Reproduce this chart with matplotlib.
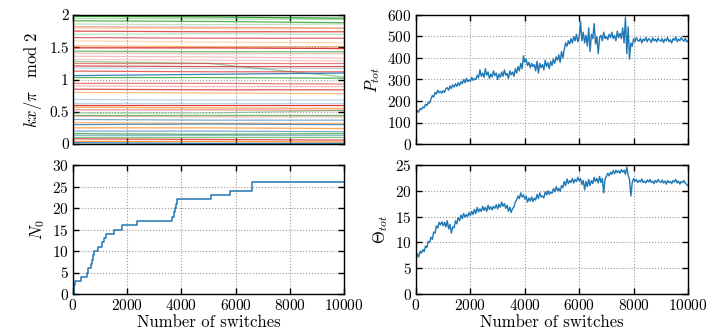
import matplotlib
matplotlib.use("Agg")
import matplotlib.pyplot as plt
import numpy as np

# ---------------- data ----------------
switch_step = 50
p_tot = [140,155,148,165,160,172,168,185,178,195,190,210,225,218,240,232,250,238,245,236,
         248,240,258,262,250,270,258,275,265,280,268,285,272,290,280,300,285,305,290,298,
         292,310,296,305,300,320,308,345,315,330,310,350,320,335,305,325,312,340,318,330,
         300,325,310,335,315,345,320,328,305,340,322,335,315,350,330,360,340,375,350,410,
         380,395,365,380,355,375,360,370,340,385,330,375,355,370,345,390,360,378,350,385,
         365,395,375,405,390,415,380,430,400,440,470,455,480,465,490,470,500,480,510,475,
         495,570,480,520,470,505,455,540,430,510,490,560,465,500,420,495,505,480,520,490,
         500,485,510,495,520,490,505,480,525,495,515,490,540,470,590,420,545,395,470,455,
         490,475,495,482,478,492,470,488,480,495,476,490,485,472,494,480,488,475,492,482,
         478,490,472,488,480,495,476,485,470,490,482,498,476,488,480,495,485,478,492,475,
         480]
theta_tot = [6.5,7.8,7.2,8.3,7.9,8.6,8.2,9.3,9.0,10.2,10.0,11.0,10.6,12.0,11.8,13.2,12.8,13.9,13.4,14.0,
             13.2,13.9,13.0,14.2,12.6,13.5,11.8,13.0,12.8,14.2,13.6,14.8,14.2,15.3,14.6,15.6,14.9,15.4,15.0,15.8,
             15.2,16.0,15.4,16.4,15.6,16.8,15.9,16.5,16.0,17.0,16.2,16.8,16.0,17.2,16.4,16.9,16.3,17.0,16.6,17.3,
             16.5,17.4,16.8,17.8,17.0,17.5,16.6,17.2,16.0,16.8,15.8,16.6,16.8,17.8,18.2,19.0,18.5,19.6,18.8,19.2,
             18.4,19.0,17.8,18.6,18.0,18.8,17.9,18.6,18.2,19.3,18.5,19.6,18.8,19.0,18.6,19.8,19.2,20.0,19.3,19.8,
             19.5,20.4,19.8,20.8,20.0,20.5,19.9,21.0,20.6,21.8,21.0,22.3,21.4,22.0,21.6,22.4,21.5,22.2,21.8,22.6,
             21.9,22.4,21.2,22.0,20.2,21.8,20.8,22.2,21.0,22.0,21.4,22.6,21.8,22.4,21.5,22.8,21.6,22.4,19.6,22.3,
             22.8,23.4,22.9,23.6,23.2,23.9,23.3,24.0,23.5,23.9,23.4,24.1,23.6,24.0,23.2,24.6,23.0,22.2,19.0,21.6,
             22.4,21.8,22.2,21.6,22.0,21.7,22.3,21.6,21.9,21.5,22.1,21.7,22.2,21.6,21.9,21.4,22.0,21.6,22.2,21.8,
             21.6,22.1,21.5,21.9,21.3,22.0,21.6,21.8,21.4,22.0,21.7,22.2,21.5,21.9,21.3,21.8,21.6,22.0,21.5,21.2,
             21.0]
switches = np.arange(len(p_tot)) * switch_step

n0_switch = [0, 20, 40, 60, 300, 515, 560, 650, 690, 720, 760, 920, 1070, 1150, 1230, 1520,
             1790, 2380, 3650, 3720, 3760, 3790, 3820, 5080, 5790, 6600, 10000]
n0_value = [0, 1, 2, 3, 4, 5, 6, 7, 8, 9, 10, 11, 12, 13, 14, 15,
            16, 17, 18, 19, 20, 21, 22, 23, 24, 26, 26]

# kx/pi mod 2 lines: value at switches 0, 5000, 10000
phase_x = [0, 5000, 10000]
phase_y0 = [1.98,1.95,1.91,1.86,1.82,1.80,1.75,1.70,1.65,1.60,1.52,1.49,1.44,1.41,1.36,1.31,1.28,1.25,1.21,1.18,1.13,1.06,1.03,
            0.94,0.90,0.85,0.80,0.69,0.63,0.61,0.57,0.53,0.48,0.45,0.43,0.38,0.33,0.30,0.25,0.20,0.16,0.14,0.11,0.08,0.04,0.02]
phase_y1 = [1.97,1.94,1.90,1.85,1.81,1.79,1.74,1.71,1.64,1.58,1.51,1.49,1.43,1.40,1.35,1.30,1.25,1.25,1.20,1.17,1.12,1.08,1.03,
            0.94,0.89,0.84,0.79,0.68,0.63,0.61,0.56,0.53,0.48,0.45,0.42,0.37,0.32,0.31,0.25,0.20,0.15,0.14,0.11,0.07,0.04,0.01]
phase_y2 = [1.95,1.93,1.88,1.86,1.80,1.79,1.74,1.70,1.64,1.57,1.51,1.48,1.43,1.40,1.33,1.29,1.04,1.25,1.20,1.17,1.12,1.10,1.02,
            0.93,0.89,0.84,0.78,0.68,0.63,0.61,0.55,0.52,0.52,0.45,0.42,0.37,0.32,0.30,0.24,0.19,0.16,0.14,0.11,0.06,0.03,0.01]
phase_color = ['g','g','g','g','r','o','r','g','r','o','o','r','g','r','r','r','g','r','r','b','r','b','g',
               'r','r','r','o','b','b','r','o','r','g','g','r','b','o','b','o','b','g','b','g','r','o','b']
phase_alpha = [1.0,0.4,0.8,0.3,0.4,0.4,0.8,0.3,0.7,0.3,0.6,0.9,0.7,0.3,0.3,0.25,0.5,0.6,0.8,0.3,0.7,0.9,0.8,
               0.6,0.3,0.8,0.5,0.3,0.3,0.9,0.7,0.5,0.4,0.7,0.3,0.6,0.6,0.8,0.7,0.6,0.8,0.5,0.6,0.8,0.8,0.9]
color_map = {'g': '#2ca02c', 'r': '#d62728', 'o': '#ff7f0e', 'b': '#1f77b4'}

# ---------------- style ----------------
plt.rcParams['font.family'] = ['cmr10', 'DejaVu Serif']
plt.rcParams['mathtext.fontset'] = 'cm'
plt.rcParams['axes.formatter.use_mathtext'] = True
plt.rcParams['font.size'] = 11

fig = plt.figure(figsize=(7.19, 3.33), dpi=100)
W, H = 719, 333
def rect(x0, y0, x1, y1):
    return [x0 / W, 1 - y1 / H, (x1 - x0) / W, (y1 - y0) / H]

ax_tl = fig.add_axes(rect(73, 15, 344, 144))
ax_tr = fig.add_axes(rect(416, 15, 688, 144))
ax_bl = fig.add_axes(rect(73, 165, 344, 294))
ax_br = fig.add_axes(rect(416, 165, 688, 294))

blue = '#1f77b4'
for y0, y1, y2, c, a in zip(phase_y0, phase_y1, phase_y2, phase_color, phase_alpha):
    ax_tl.plot(phase_x, [y0, y1, y2], color=color_map[c], alpha=a, lw=0.9)

ax_tr.plot(switches, p_tot, color=blue, lw=1.0)
ax_bl.step(n0_switch, n0_value, where='post', color=blue, lw=1.1)
ax_br.plot(switches, theta_tot, color=blue, lw=1.0)

ax_tl.set_ylim(0, 2)
ax_tl.set_yticks([0, 0.5, 1, 1.5, 2])
ax_tl.set_yticklabels(['0', '0.5', '1', '1.5', '2'])
ax_tr.set_ylim(0, 600)
ax_tr.set_yticks(range(0, 601, 100))
ax_bl.set_ylim(0, 30)
ax_bl.set_yticks(range(0, 31, 5))
ax_br.set_ylim(0, 25)
ax_br.set_yticks(range(0, 26, 5))

for ax in (ax_tl, ax_tr, ax_bl, ax_br):
    ax.set_xlim(0, 10000)
    ax.set_xticks(range(0, 10001, 2000))
    ax.grid(True, linestyle=':', color='#999999', lw=0.8)
    ax.tick_params(direction='in', top=True, right=True, length=4, width=1, labelsize=11, pad=3)
    for s in ax.spines.values():
        s.set_linewidth(1.0)
for ax in (ax_tl, ax_tr):
    ax.set_xticklabels([])
for ax in (ax_bl, ax_br):
    ax.set_xlabel('Number of switches', fontsize=12, labelpad=1)

ax_tl.set_ylabel(r'$kx/\pi\quad\mathrm{mod}\ 2$', fontsize=12)
ax_tr.set_ylabel(r'$P_{tot}$', fontsize=12)
ax_bl.set_ylabel(r'$N_0$', fontsize=12)
ax_br.set_ylabel(r'$\Theta_{tot}$', fontsize=12)

fig.savefig('out.png', dpi=100)
